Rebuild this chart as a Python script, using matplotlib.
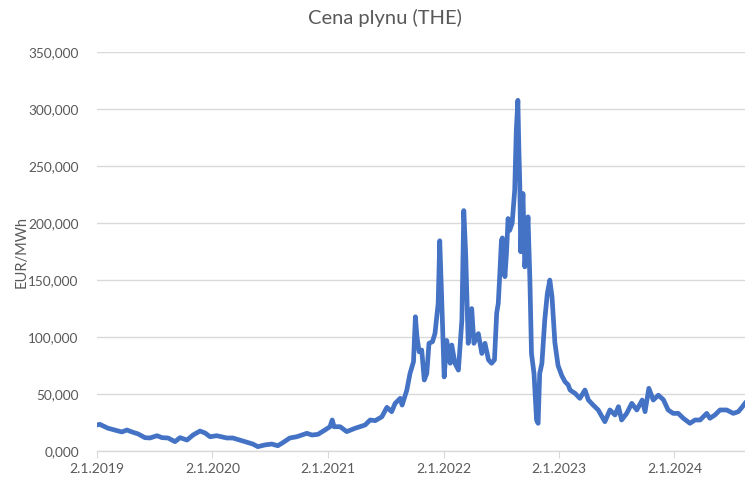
import numpy as np
import pandas as pd
import matplotlib
matplotlib.use("Agg")
import matplotlib.pyplot as plt
import matplotlib.dates as mdates
from matplotlib.ticker import FuncFormatter

# THE gas price, EUR/MWh
dates = [
    "2019-01-02", "2019-01-11", "2019-02-06", "2019-02-28", "2019-03-22", "2019-04-07",
    "2019-04-23", "2019-05-12", "2019-06-03", "2019-06-19", "2019-07-11", "2019-07-27",
    "2019-08-15", "2019-09-06", "2019-09-22", "2019-10-14", "2019-11-02", "2019-11-24",
    "2019-12-10", "2019-12-26",
    "2020-01-16", "2020-02-17", "2020-03-07", "2020-04-07", "2020-05-09", "2020-05-25",
    "2020-06-16", "2020-07-08", "2020-07-27", "2020-08-12", "2020-09-03", "2020-09-25",
    "2020-10-27", "2020-11-12", "2020-12-01", "2020-12-23",
    "2021-01-08", "2021-01-15", "2021-01-21", "2021-02-09", "2021-03-02", "2021-03-28",
    "2021-04-29", "2021-05-15", "2021-05-31", "2021-06-21", "2021-07-07", "2021-07-22",
    "2021-08-02", "2021-08-18", "2021-08-24", "2021-09-08", "2021-09-18", "2021-09-29",
    "2021-10-05", "2021-10-10", "2021-10-17", "2021-10-25", "2021-11-02", "2021-11-10",
    "2021-11-17", "2021-11-28", "2021-12-06", "2021-12-16", "2021-12-21", "2021-12-27",
    "2022-01-04", "2022-01-12", "2022-01-23", "2022-01-28", "2022-02-07", "2022-02-18",
    "2022-03-01", "2022-03-07", "2022-03-13", "2022-03-21", "2022-04-01", "2022-04-08",
    "2022-04-22", "2022-05-03", "2022-05-13", "2022-05-24", "2022-06-03", "2022-06-12",
    "2022-06-19", "2022-06-24", "2022-06-29", "2022-07-04", "2022-07-07", "2022-07-15",
    "2022-07-20", "2022-07-25", "2022-07-30", "2022-08-07", "2022-08-15", "2022-08-20",
    "2022-08-25", "2022-08-28", "2022-08-31", "2022-09-03", "2022-09-10", "2022-09-16",
    "2022-09-26", "2022-10-02", "2022-10-07", "2022-10-15", "2022-10-23", "2022-10-28",
    "2022-11-02", "2022-11-09", "2022-11-18", "2022-11-26", "2022-12-04", "2022-12-11",
    "2022-12-20", "2022-12-30",
    "2023-01-11", "2023-01-21", "2023-01-31", "2023-02-06", "2023-02-22", "2023-03-09",
    "2023-03-25", "2023-04-05", "2023-04-20", "2023-05-06", "2023-05-27", "2023-06-12",
    "2023-06-28", "2023-07-09", "2023-07-19", "2023-08-04", "2023-08-20", "2023-09-05",
    "2023-09-22", "2023-10-01", "2023-10-13", "2023-10-27", "2023-11-12", "2023-11-28",
    "2023-12-13", "2023-12-29",
    "2024-01-14", "2024-01-30", "2024-02-20", "2024-03-07", "2024-03-23", "2024-04-13",
    "2024-04-23", "2024-05-09", "2024-05-25", "2024-06-15", "2024-07-06", "2024-07-22",
    "2024-08-04", "2024-08-12",
]
prices = [
    22.8, 23.4, 20.0, 18.4, 16.7, 18.4,
    16.7, 15.0, 11.7, 11.4, 13.4, 11.7,
    11.4, 8.2, 11.7, 9.6, 14.0, 17.5,
    15.8, 12.5,
    13.4, 11.4, 11.4, 8.8, 6.1, 3.8,
    5.3, 6.1, 4.6, 7.3, 11.4, 12.5,
    15.5, 14.0, 14.6, 18.4,
    21.3, 27.2, 21.3, 21.3, 17.0, 19.9,
    22.8, 27.2, 26.6, 30.0, 38.3, 34.5,
    41.8, 46.2, 40.3, 53.5, 68.0, 78.3,
    117.8, 100.0, 87.0, 88.6, 62.3, 68.0,
    94.5, 95.9, 103.2, 129.5, 184.5, 135.0,
    65.0, 97.0, 77.0, 93.0, 77.0, 71.0,
    115.0, 211.0, 173.0, 94.5, 125.0, 94.5,
    103.0, 85.6, 94.5, 80.0, 77.0, 80.0,
    121.0, 129.5, 156.0, 185.0, 187.0, 153.0,
    173.6, 204.0, 193.6, 200.0, 229.0, 281.5,
    307.8, 267.0, 235.0, 174.8, 226.0, 161.6,
    205.5, 150.0, 85.6, 68.0, 27.2, 24.3,
    68.0, 77.0, 115.0, 138.0, 150.0, 135.0,
    95.0, 75.0,
    66.0, 60.8, 58.0, 53.5, 50.5, 46.2,
    53.5, 44.7, 40.3, 36.0, 25.7, 36.0,
    31.6, 38.9, 27.2, 33.0, 41.8, 36.0,
    44.7, 34.5, 55.0, 44.7, 49.0, 45.0,
    36.0, 33.0,
    33.0, 28.7, 24.3, 27.2, 27.2, 33.0,
    28.7, 31.6, 36.0, 36.0, 33.0, 34.5,
    38.9, 41.8,
]
year_ticks = ["2019-01-02", "2020-01-02", "2021-01-02", "2022-01-02", "2023-01-02", "2024-01-02"]

df = pd.DataFrame({"date": pd.to_datetime(dates), "price": prices})

plt.rcParams["font.family"] = ["Lato", "DejaVu Sans"]
grey_txt = "#595959"
grid_col = "#d9d9d9"

fig = plt.figure(figsize=(7.45, 4.79), dpi=100)
ax = fig.add_axes([0.130, 0.0585, 0.870, 0.8325])

ax.plot(df["date"], df["price"], color="#4472c4", lw=3.4, solid_joinstyle="round")

ax.set_ylim(0, 350)
ax.set_yticks(np.arange(0, 351, 50))
ax.yaxis.set_major_formatter(FuncFormatter(lambda v, p: f"{v:.3f}".replace(".", ",")))
ax.set_xlim(pd.Timestamp("2019-01-02"), pd.Timestamp("2024-08-12"))
ax.set_xticks(pd.to_datetime(year_ticks))
ax.xaxis.set_major_formatter(mdates.DateFormatter("%-d.%-m.%Y"))

ax.grid(axis="y", color=grid_col, lw=1)
ax.set_axisbelow(True)
for s in ["top", "right", "left"]:
    ax.spines[s].set_visible(False)
ax.spines["bottom"].set_color(grid_col)
ax.spines["bottom"].set_linewidth(1)
ax.tick_params(axis="y", length=0, pad=13, labelsize=9.8, labelcolor=grey_txt)
ax.tick_params(axis="x", length=5, color=grid_col, pad=4, labelsize=10, labelcolor=grey_txt)

fig.text(0.0295, 0.0585 + 0.8325 / 2, "EUR/MWh", rotation=90, ha="center", va="center",
         fontsize=10.5, color=grey_txt)
fig.text(0.517, 0.962, "Cena plynu (THE)", ha="center", va="center", fontsize=14.5, color=grey_txt)

fig.savefig("out.png", dpi=100)
